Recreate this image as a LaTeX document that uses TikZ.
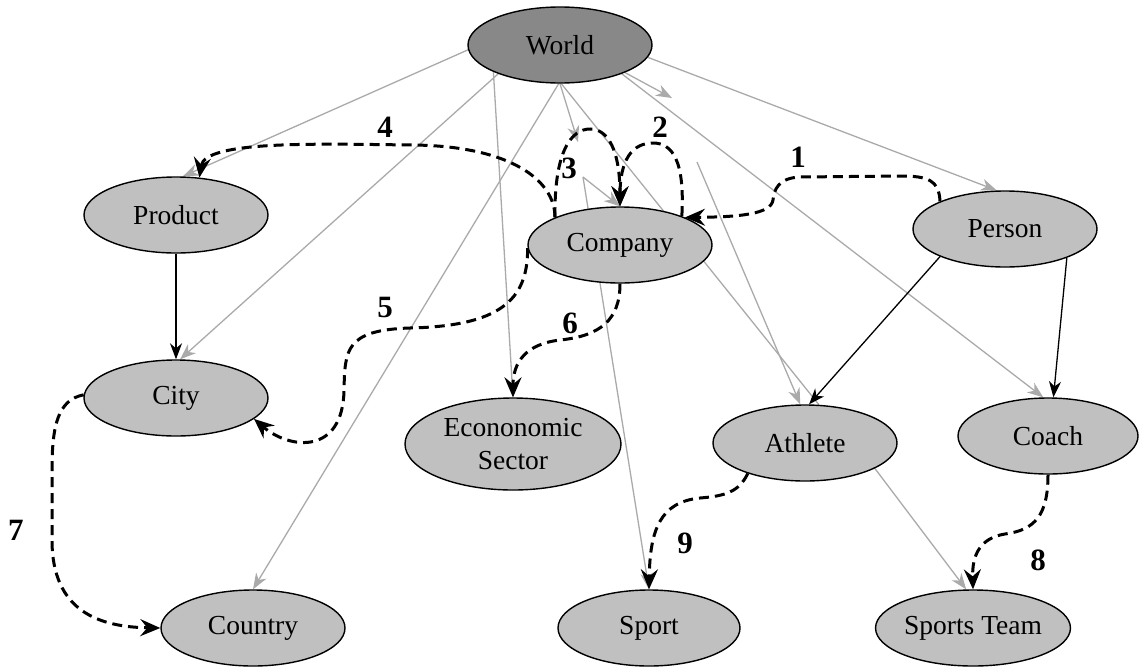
\documentclass[tikz,border=0pt]{standalone}
\usepackage{fontspec}
\setmainfont{Liberation Serif}
\usetikzlibrary{shapes.geometric,arrows.meta}
\pgfdeclarelayer{edges}
\pgfsetlayers{edges,main}
\definecolor{nodefill}{RGB}{192,192,192}
\definecolor{rootfill}{RGB}{136,136,136}
\definecolor{linkgray}{RGB}{170,170,170}
\begin{document}
\begin{tikzpicture}[x=1pt,y=-1pt,
  entity/.style={ellipse,draw=black,line width=1.4pt,fill=nodefill,
    minimum width=184pt,minimum height=76pt,inner sep=0pt,
    font=\fontsize{27.5}{33}\selectfont,align=center},
  root/.style={entity,fill=rootfill},
  plain/.style={draw=linkgray,line width=1.3pt},
  weak/.style={plain,-{Stealth[length=16pt,width=12pt,inset=5pt]}},
  strong/.style={draw=black,line width=1.3pt,-{Stealth[length=16pt,width=12pt,inset=5pt]}},
  hop/.style={draw=black,line width=3pt,dash pattern=on 10pt off 6pt,
    -{Stealth[length=20pt,width=17pt,inset=7pt]}},
  num/.style={font=\fontsize{31}{31}\selectfont\bfseries,inner sep=0pt}]

\useasboundingbox (0,0) rectangle (1140,667);

% entities
\node[root]   (world)      at (560,45)  {World};
\node[entity] (product)    at (176,215) {Product};
\node[entity] (company)    at (620,245) {Company};
\node[entity] (person)     at (1005,229) {Person};
\node[entity] (city)       at (176,398) {City};
\node[entity,minimum width=216pt,minimum height=92pt] (econ) at (513,444) {Econonomic\\Sector};
\node[entity] (athlete)    at (805,443) {Athlete};
\node[entity,minimum width=180pt] (coach) at (1048,436) {Coach};
\node[entity] (country)    at (253,628) {Country};
\node[entity,minimum width=182pt] (sport) at (649,628) {Sport};
\node[entity,minimum width=188pt] (sportsteam) at (973,628) {Sports Team};

% loose ends of split links
\coordinate (stubA) at (578,142);
\coordinate (stubB) at (583,177);
\coordinate (stubC) at (672,98);
\coordinate (stubD) at (697,162);

\begin{pgfonlayer}{edges}
% links from World
\draw[weak] (world.183) -- (product.80);
\draw[weak] (world.205) -- (city.84);
\draw[weak] (world.202) -- (econ.north);
\draw[weak] (world.268) -- (country.north);
\draw[weak] (world.270) -- (stubA);
\draw[weak] (stubB) -- (company.north);
\draw[weak] (stubB) -- (sport.north);
\draw[plain] (world.272) -- (athlete.70);
\draw[weak] (world.337) -- (stubC);
\draw[weak] (stubD) -- (athlete.97);
\draw[weak] (world.335) -- (coach.97);
\draw[weak] (world.352) -- (person.102);
\draw[weak] (athlete.340) -- (sportsteam.100);

% direct hierarchy links
\draw[strong] (product.south) -- (city.north);
\draw[strong] (person.203) -- (athlete.84);
\draw[strong] (person.335) -- (coach.82);

% numbered paths
\draw[hop] (person.157) .. controls (939,180) and (928,176) .. (900,176)
  -- (800,177) .. controls (778,178) and (774,190) .. (773,200)
  .. controls (771,214) and (740,217) .. (company.23);
\draw[hop] (company.25) .. controls (685,160) and (672,143) .. (653,143)
  .. controls (632,143) and (620,160) .. (company.north);
\draw[hop] (company.157) .. controls (554,150) and (572,129) .. (590,129)
  .. controls (608,129) and (620,150) .. (company.north);
\draw[hop] (company.157) .. controls (555,180) and (510,146) .. (413,145)
  .. controls (320,144) and (205,140) .. (product.58);
\draw[hop] (company.182) .. controls (528,300) and (500,326) .. (410,328)
  .. controls (345,330) and (345,350) .. (344,390)
  .. controls (343,455) and (290,450) .. (city.345);
\draw[hop] (company.south) .. controls (620,320) and (600,336) .. (560,340)
  .. controls (526,344) and (513,362) .. (econ.north);
\draw[hop] (city.178) .. controls (58,400) and (52,425) .. (52,470)
  -- (52,540) .. controls (52,612) and (100,627) .. (country.west);
\draw[hop] (coach.south) .. controls (1048,515) and (1035,530) .. (1005,534)
  .. controls (980,538) and (972,555) .. (sportsteam.north);
\draw[hop] (athlete.208) .. controls (739,492) and (725,496) .. (700,498)
  .. controls (660,502) and (650,530) .. (sport.north);
\end{pgfonlayer}

% path numbers
\node[num] (n1) at (798,157) {1};
\node[num] (n2) at (660,127) {2};
\node[num] (n3) at (569,168) {3};
\node[num] (n4) at (385,127) {4};
\node[num] (n5) at (385,307) {5};
\node[num] (n6) at (570,323) {6};
\node[num] (n7) at (16,530) {7};
\node[num] (n8) at (1038,560) {8};
\node[num] (n9) at (685,543) {9};
\end{tikzpicture}
\end{document}
